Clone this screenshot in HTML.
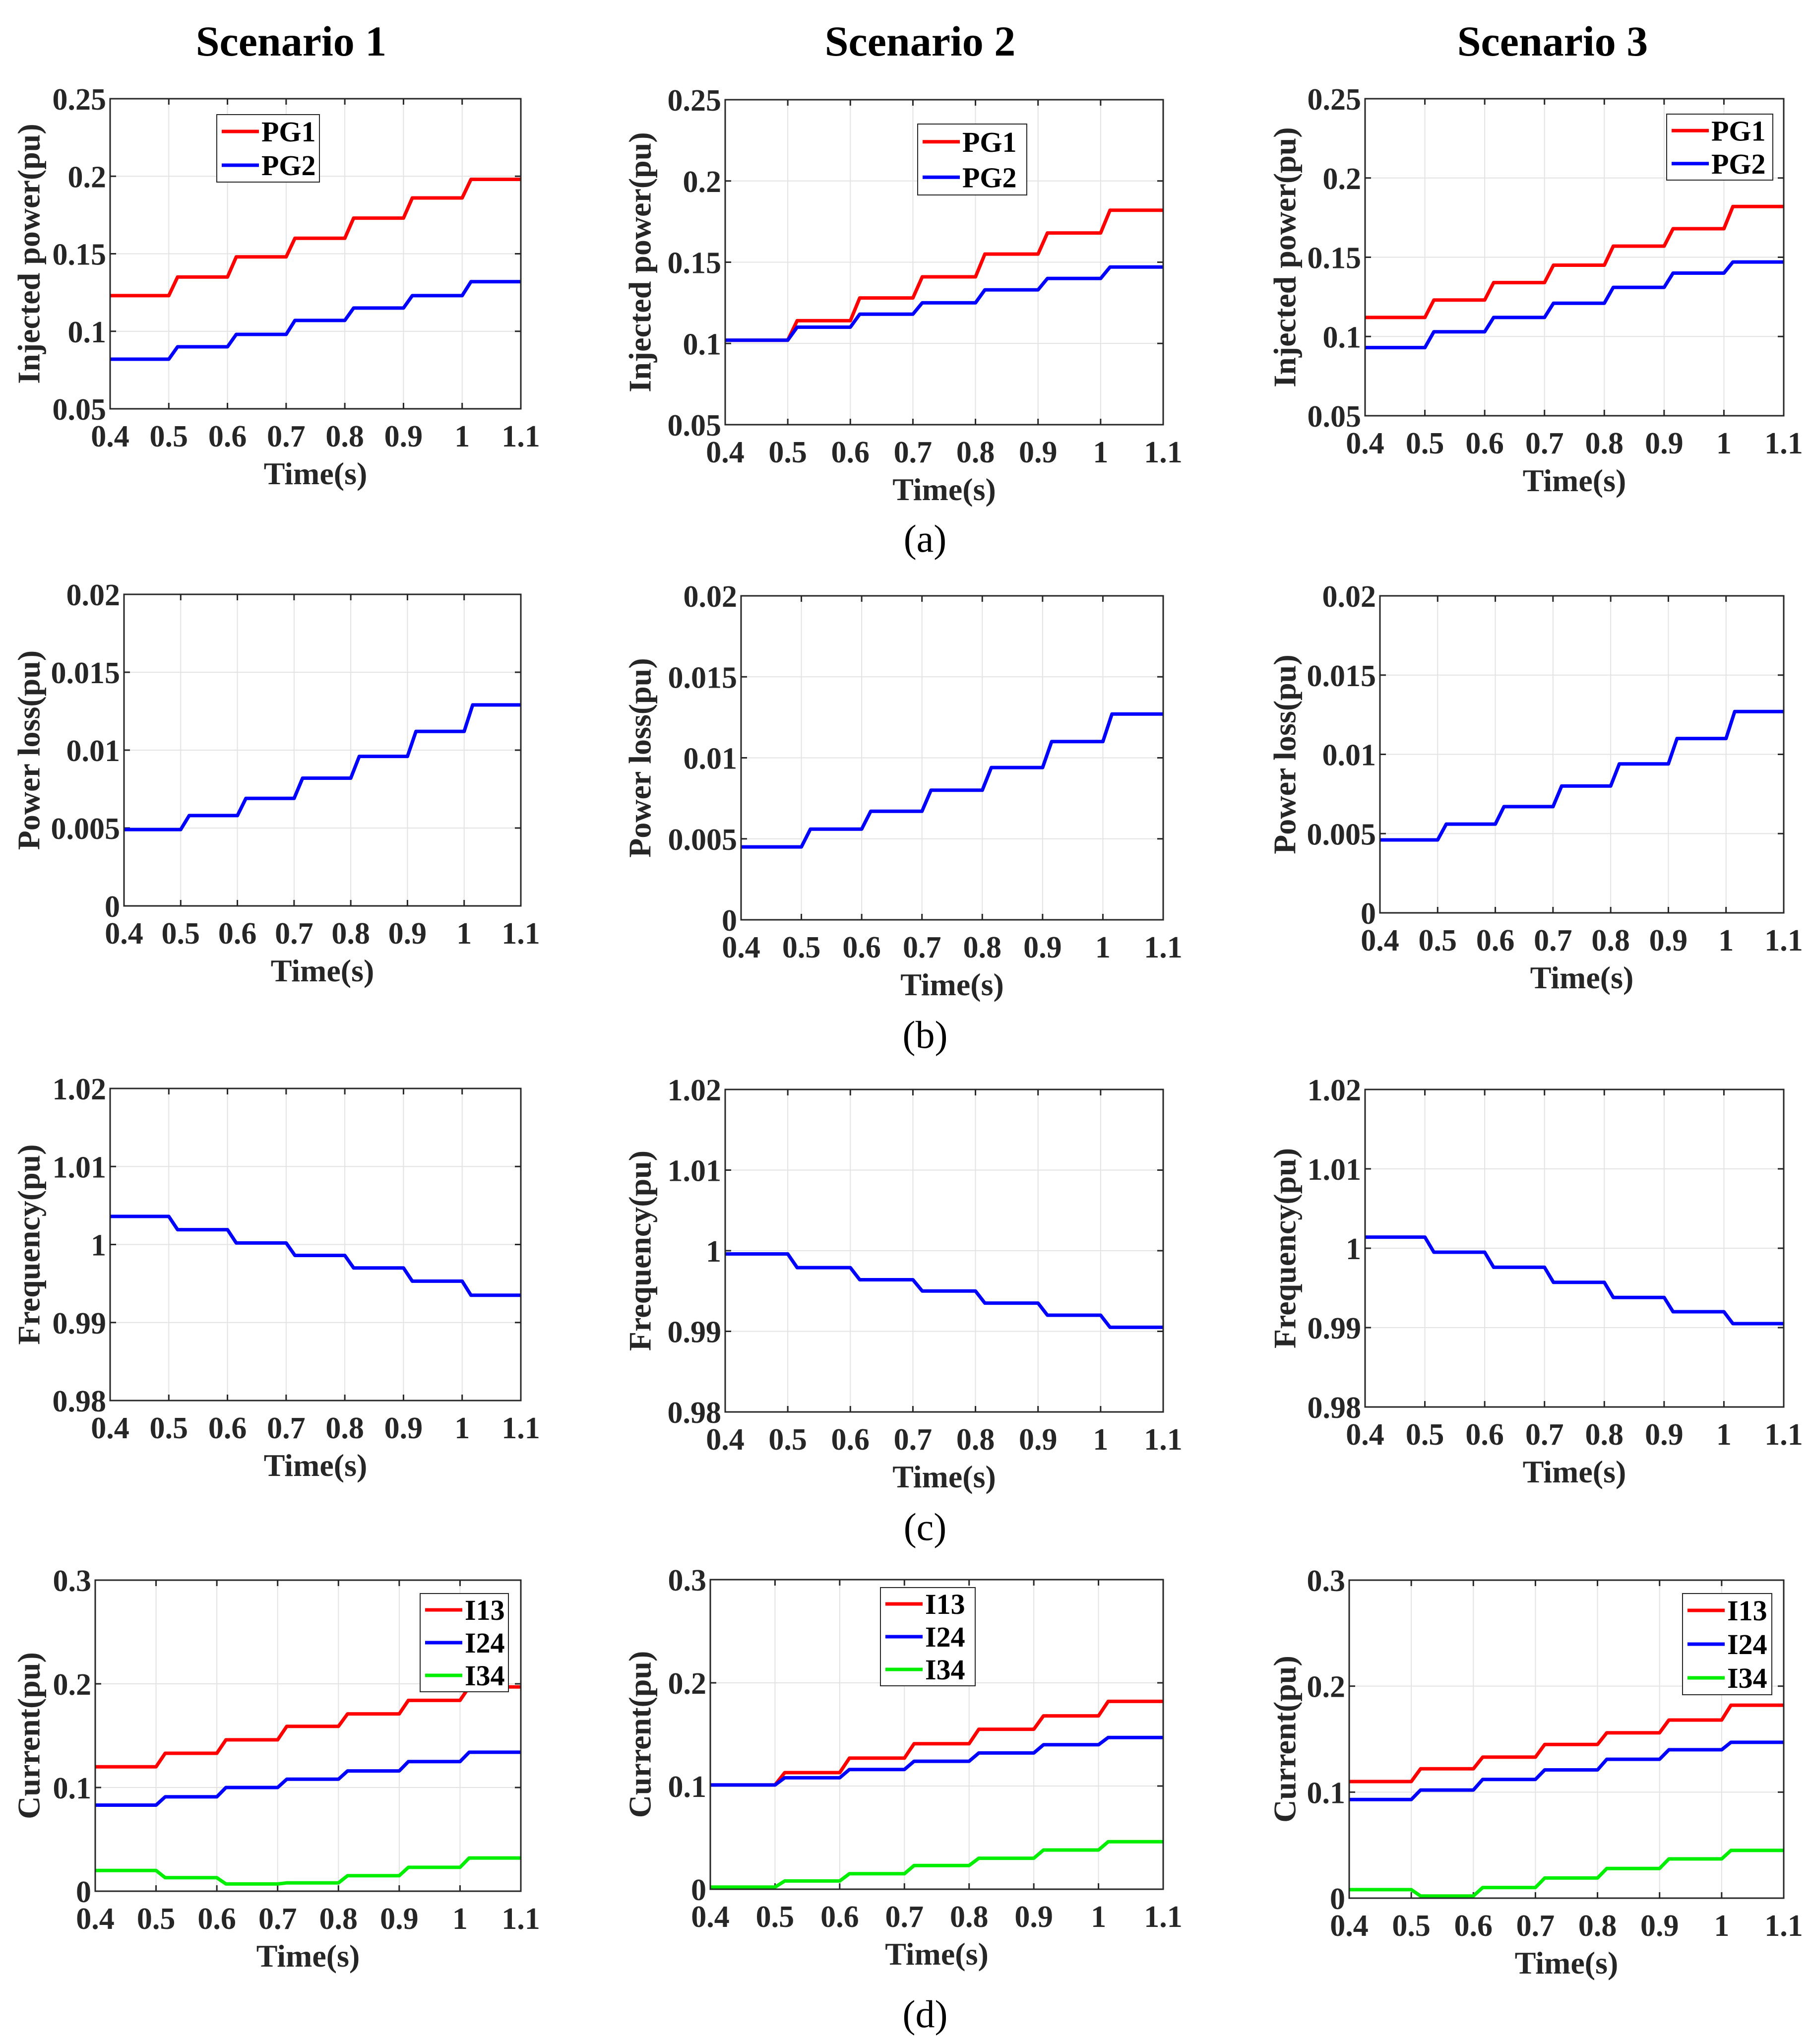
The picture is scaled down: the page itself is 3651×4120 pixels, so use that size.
<!DOCTYPE html>
<html><head><meta charset="utf-8"><style>
html,body{margin:0;padding:0;background:#fff;}
svg{display:block;font-family:"Liberation Serif",serif;font-weight:bold;}
</style></head><body>
<svg id="fig" width="3651" height="4120" viewBox="0 0 3651 4120" xmlns="http://www.w3.org/2000/svg">
<text x="587" y="112" font-size="86" text-anchor="middle">Scenario 1</text>
<text x="1855" y="112" font-size="86" text-anchor="middle">Scenario 2</text>
<text x="3130" y="112" font-size="86" text-anchor="middle">Scenario 3</text>
<text x="1865" y="1112" font-size="78" font-weight="normal" text-anchor="middle">(a)</text>
<text x="1865" y="2112" font-size="78" font-weight="normal" text-anchor="middle">(b)</text>
<text x="1865" y="3104" font-size="78" font-weight="normal" text-anchor="middle">(c)</text>
<text x="1865" y="4086" font-size="78" font-weight="normal" text-anchor="middle">(d)</text>
</svg>
<script>
const timeSteps = [0.4,0.5,0.6,0.7,0.8,0.9,1.0];
const xTicks = [0.4,0.5,0.6,0.7,0.8,0.9,1,1.1];
const xTickLabels = ["0.4","0.5","0.6","0.7","0.8","0.9","1","1.1"];

const s1PG1 = [0.123,0.135,0.148,0.160,0.173,0.186,0.198];
const s1PG2 = [0.082,0.090,0.098,0.107,0.115,0.123,0.132];
const s2PG1 = [0.102,0.114,0.128,0.141,0.155,0.168,0.182];
const s2PG2 = [0.102,0.110,0.118,0.125,0.133,0.140,0.147];
const s3PG1 = [0.112,0.123,0.134,0.145,0.157,0.168,0.182];
const s3PG2 = [0.093,0.103,0.112,0.121,0.131,0.140,0.147];
const powerTicks = [0.05,0.1,0.15,0.2,0.25];
const powerTickLabels = ["0.05","0.1","0.15","0.2","0.25"];

const s1Loss = [0.0049,0.0058,0.0069,0.0082,0.0096,0.0112,0.0129];
const s2Loss = [0.0045,0.0056,0.0067,0.0080,0.0094,0.0110,0.0127];
const s3Loss = [0.0046,0.0056,0.0067,0.0080,0.0094,0.0110,0.0127];
const lossTicks = [0,0.005,0.01,0.015,0.02];
const lossTickLabels = ["0","0.005","0.01","0.015","0.02"];

const s1Freq = [1.0036,1.0019,1.0002,0.9986,0.9970,0.9953,0.9935];
const s2Freq = [0.9996,0.9979,0.9964,0.9950,0.9935,0.9920,0.9905];
const s3Freq = [1.0014,0.9995,0.9976,0.9957,0.9938,0.9920,0.9905];
const freqTicks = [0.98,0.99,1,1.01,1.02];
const freqTickLabels = ["0.98","0.99","1","1.01","1.02"];

const s1I13 = [0.120,0.133,0.146,0.159,0.171,0.184,0.197];
const s1I24 = [0.083,0.091,0.100,0.108,0.116,0.125,0.134];
const s1I34 = [0.020,0.013,0.007,0.008,0.015,0.023,0.032];
const s2I13 = [0.101,0.113,0.127,0.141,0.155,0.168,0.182];
const s2I24 = [0.101,0.108,0.116,0.124,0.132,0.140,0.147];
const s2I34 = [0.002,0.008,0.015,0.023,0.030,0.038,0.046];
const s3I13 = [0.110,0.122,0.133,0.145,0.156,0.168,0.182];
const s3I24 = [0.093,0.102,0.112,0.121,0.131,0.140,0.147];
const s3I34 = [0.008,0.002,0.010,0.019,0.028,0.037,0.045];
const currTicks = [0,0.1,0.2,0.3];
const currTickLabels = ["0","0.1","0.2","0.3"];

const NS = "http://www.w3.org/2000/svg";
const svg = document.getElementById('fig');
function mk(tag, attrs, parent){
  const e = document.createElementNS(NS, tag);
  for (const k in attrs) e.setAttribute(k, attrs[k]);
  (parent||svg).appendChild(e);
  return e;
}
const charts = [
 {id:'power-s1',L:222,R:1050,T:199,B:824,yl:58,ymin:0.05,ymax:0.25,ticks:powerTicks,tl:powerTickLabels,ylabel:'Injected power(pu)',series:[['PG1',s1PG1,'#ff0000'],['PG2',s1PG2,'#0000ff']],leg:[437,231,644,367]},
 {id:'power-s2',L:1462,R:2345,T:201,B:856,yl:1290,ymin:0.05,ymax:0.25,ticks:powerTicks,tl:powerTickLabels,ylabel:'Injected power(pu)',series:[['PG1',s2PG1,'#ff0000'],['PG2',s2PG2,'#0000ff']],leg:[1850,250,2070,393]},
 {id:'power-s3',L:2752,R:3596,T:199,B:838,yl:2590,ymin:0.05,ymax:0.25,ticks:powerTicks,tl:powerTickLabels,ylabel:'Injected power(pu)',series:[['PG1',s3PG1,'#ff0000'],['PG2',s3PG2,'#0000ff']],leg:[3360,230,3574,363]},
 {id:'loss-s1',L:250,R:1050,T:1198,B:1826,yl:58,ymin:0,ymax:0.02,ticks:lossTicks,tl:lossTickLabels,ylabel:'Power loss(pu)',series:[['Loss',s1Loss,'#0000ff']]},
 {id:'loss-s2',L:1494,R:2345,T:1201,B:1854,yl:1290,ymin:0,ymax:0.02,ticks:lossTicks,tl:lossTickLabels,ylabel:'Power loss(pu)',series:[['Loss',s2Loss,'#0000ff']]},
 {id:'loss-s3',L:2782,R:3596,T:1201,B:1840,yl:2590,ymin:0,ymax:0.02,ticks:lossTicks,tl:lossTickLabels,ylabel:'Power loss(pu)',series:[['Loss',s3Loss,'#0000ff']]},
 {id:'freq-s1',L:222,R:1050,T:2194,B:2823,yl:58,ymin:0.98,ymax:1.02,ticks:freqTicks,tl:freqTickLabels,ylabel:'Frequency(pu)',series:[['Freq',s1Freq,'#0000ff']]},
 {id:'freq-s2',L:1462,R:2345,T:2196,B:2846,yl:1290,ymin:0.98,ymax:1.02,ticks:freqTicks,tl:freqTickLabels,ylabel:'Frequency(pu)',series:[['Freq',s2Freq,'#0000ff']]},
 {id:'freq-s3',L:2752,R:3596,T:2196,B:2836,yl:2590,ymin:0.98,ymax:1.02,ticks:freqTicks,tl:freqTickLabels,ylabel:'Frequency(pu)',series:[['Freq',s3Freq,'#0000ff']]},
 {id:'current-s1',L:192,R:1050,T:3185,B:3812,yl:58,ymin:0,ymax:0.3,ticks:currTicks,tl:currTickLabels,ylabel:'Current(pu)',series:[['I13',s1I13,'#ff0000'],['I24',s1I24,'#0000ff'],['I34',s1I34,'#00ee00']],leg:[847,3212,1025,3410]},
 {id:'current-s2',L:1432,R:2345,T:3184,B:3808,yl:1290,ymin:0,ymax:0.3,ticks:currTicks,tl:currTickLabels,ylabel:'Current(pu)',series:[['I13',s2I13,'#ff0000'],['I24',s2I24,'#0000ff'],['I34',s2I34,'#00ee00']],leg:[1775,3200,1966,3398]},
 {id:'current-s3',L:2720,R:3596,T:3185,B:3826,yl:2590,ymin:0,ymax:0.3,ticks:currTicks,tl:currTickLabels,ylabel:'Current(pu)',series:[['I13',s3I13,'#ff0000'],['I24',s3I24,'#0000ff'],['I34',s3I34,'#00ee00']],leg:[3392,3212,3572,3416]}
];
charts.forEach(c=>{
  const g = mk('g',{});
  
  
  const xs = v => c.L + (v-0.4)/(1.1-0.4)*(c.R-c.L);
  const ys = v => c.B - (v-c.ymin)/(c.ymax-c.ymin)*(c.B-c.T);
  mk('rect',{x:c.L,y:c.T,width:c.R-c.L,height:c.B-c.T,fill:'#fff'},g);
  xTicks.forEach((t,i)=>{
    const x = xs(t);
    if(i>0 && i<xTicks.length-1) mk('line',{x1:x,y1:c.T,x2:x,y2:c.B,stroke:'#e3e3e3','stroke-width':2},g);
    mk('line',{x1:x,y1:c.B,x2:x,y2:c.B-12,stroke:'#262626','stroke-width':3},g);
    mk('line',{x1:x,y1:c.T,x2:x,y2:c.T+12,stroke:'#262626','stroke-width':3},g);
    const tx = mk('text',{x:x,y:c.B+76,'font-size':62,'text-anchor':'middle',fill:'#262626'},g);
    tx.textContent = xTickLabels[i];
    
    
  });
  c.ticks.forEach((t,i)=>{
    const y = ys(t);
    if(i>0 && i<c.ticks.length-1) mk('line',{x1:c.L,y1:y,x2:c.R,y2:y,stroke:'#e3e3e3','stroke-width':2},g);
    mk('line',{x1:c.L,y1:y,x2:c.L+12,y2:y,stroke:'#262626','stroke-width':3},g);
    mk('line',{x1:c.R,y1:y,x2:c.R-12,y2:y,stroke:'#262626','stroke-width':3},g);
    const tx = mk('text',{x:c.L-8,y:y+22,'font-size':62,'text-anchor':'end',fill:'#262626'},g);
    tx.textContent = c.tl[i];
    
    
  });
  c.series.forEach(s=>{
    let d = '';
    s[1].forEach((v,i)=>{
      const t0 = timeSteps[i];
      const t1 = i<s[1].length-1 ? timeSteps[i+1] : 1.1;
      const xa = i===0 ? xs(t0) : xs(t0+0.015);
      d += (i===0?'M':'L') + xa.toFixed(1)+' '+ys(v).toFixed(1)+' L'+xs(t1).toFixed(1)+' '+ys(v).toFixed(1)+' ';
    });
    const p = mk('path',{d:d,fill:'none',stroke:s[2],'stroke-width':7,'stroke-linejoin':'round'},g);
    
    
  });
  mk('rect',{x:c.L,y:c.T,width:c.R-c.L,height:c.B-c.T,fill:'none',stroke:'#262626','stroke-width':3},g);
  const xl = mk('text',{x:(c.L+c.R)/2,y:c.B+152,'font-size':64,'text-anchor':'middle',fill:'#262626'},g);
  xl.textContent = 'Time(s)';
  
  
  const cy = (c.T+c.B)/2;
  const yl = mk('text',{x:c.yl,y:cy,'font-size':64,'text-anchor':'middle',fill:'#262626',transform:'rotate(-90 '+c.yl+' '+cy+')','dominant-baseline':'central'},g);
  yl.textContent = c.ylabel;
  
  
  if(c.leg){
    const [x0,y0,x1,y1] = c.leg;
    const lg = mk('g',{},g);
    
    
    mk('rect',{x:x0,y:y0,width:x1-x0,height:y1-y0,fill:'#fff',stroke:'#262626','stroke-width':2},lg);
    const n = c.series.length;
    const step = (y1-y0)/n;
    c.series.forEach((s,i)=>{
      const yy = y0 + step*(i+0.5);
      mk('line',{x1:x0+10,y1:yy,x2:x0+85,y2:yy,stroke:s[2],'stroke-width':7},lg);
      const t = mk('text',{x:x0+90,y:yy+20,'font-size':58,fill:'#000'},lg);
      t.textContent = s[0];
      
      
    });
  }
});
</script>
</body></html>
